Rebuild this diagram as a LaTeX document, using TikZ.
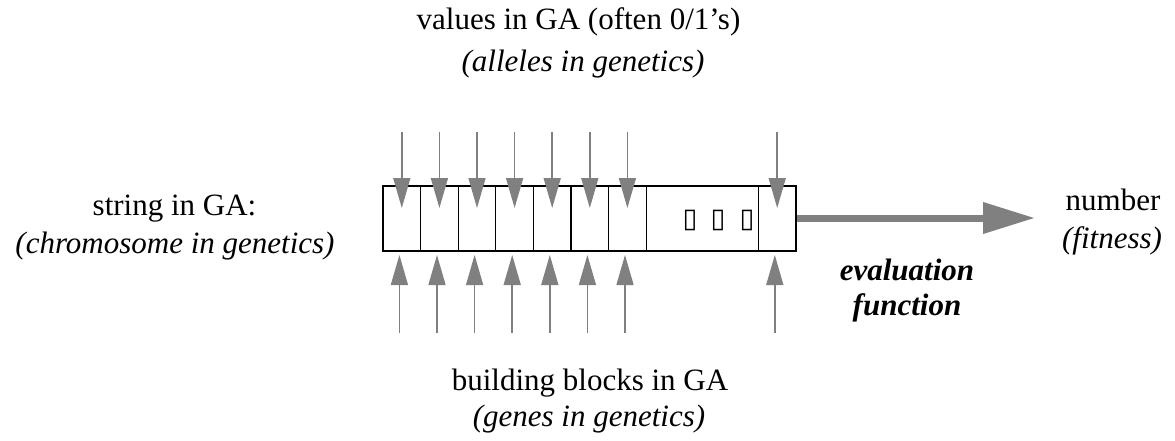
\documentclass[tikz,border=0pt]{standalone}
\usepackage{fontspec}
\setmainfont{Liberation Serif}
\newfontfamily\symfont{DejaVu Sans}
\usepackage{tikz}
\usetikzlibrary{arrows.meta}

\begin{document}
\begin{tikzpicture}[x=1pt, y=-1pt,
        label/.style={inner sep=0pt, anchor=base, font=\fontsize{31}{35}\selectfont},
        genearrow/.style={draw=gray, line width=1.5pt, -{Triangle[length=30pt, width=17pt]}},
        evalarrow/.style={draw=gray, line width=7pt, -{Triangle[length=52pt, width=30pt]}},
        dotbox/.style={inner sep=0pt, font=\symfont\fontsize{27}{27}\selectfont}]
        \useasboundingbox (0, 0) rectangle (1175, 441);

        % Draw the string of genes
        \node[draw, line width=2.5pt, minimum width=413pt, minimum height=65pt, inner sep=0pt] (chrom) at (589.5, 218.5) {};
        \foreach \x in {420.6, 458.2, 495.8, 533.4, 571, 608.6, 646.2, 758.3} {
            \draw[line width=1.1pt] (\x, 186) -- (\x, 251);
        }

        % Draw the missing symbols in the gap
        \node[dotbox] (dot1) at (690, 220) {▯};
        \node[dotbox] (dot2) at (718, 220) {▯};
        \node[dotbox] (dot3) at (747, 220) {▯};

        % Draw the arrows into each gene, from above and from below
        \foreach \i/\x in {1/401.8, 2/439.4, 3/477, 4/514.6, 5/552.2, 6/589.8, 7/627.4, 8/777.2} {
            \coordinate (top\i) at (\x, 132);
            \coordinate (toptip\i) at (\x, 208);
            \coordinate (bot\i) at ({\x-2.4}, 332.7);
            \coordinate (bottip\i) at ({\x-2.4}, 255);
            \draw[genearrow] (top\i) -- (toptip\i);
            \draw[genearrow] (bot\i) -- (bottip\i);
        }

        % Draw the evaluation arrow
        \coordinate (fit) at (1035, 218);
        \draw[evalarrow] (chrom.east |- fit) -- (fit);

        % Labels
        \node[label] (values) at (578.5, 30) {values in GA (often 0/1’s)};
        \node[label] (alleles) at (583, 72) {\itshape (alleles in genetics)};
        \node[label] (string) at (174.5, 215) {string in GA:};
        \node[label] (chromo) at (175, 253) {\itshape (chromosome in genetics)};
        \node[label] (blocks) at (590, 390) {building blocks in GA};
        \node[label] (genes) at (589, 426) {\itshape (genes in genetics)};
        \node[label] (number) at (1113, 210) {number};
        \node[label] (fitness) at (1112, 248) {\itshape (fitness)};
        \node[label] (eval) at (907, 280) {\bfseries\itshape evaluation};
        \node[label] (func) at (907, 315) {\bfseries\itshape function};
    \end{tikzpicture}
\end{document}
